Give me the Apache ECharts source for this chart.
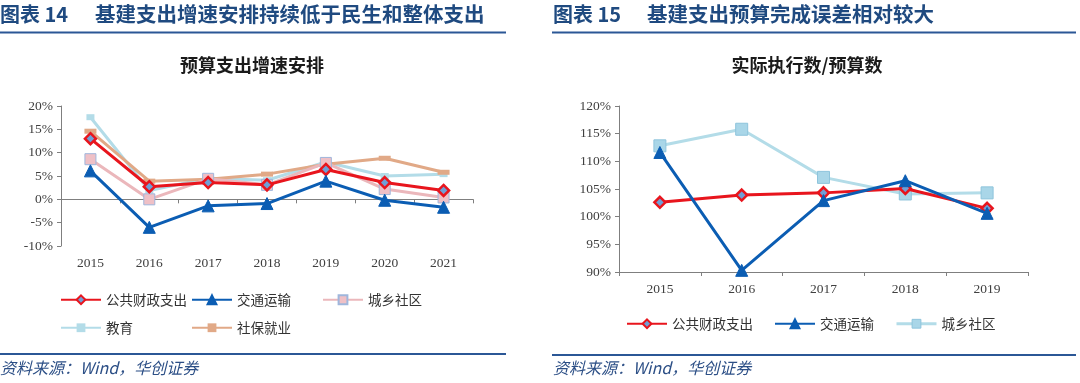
<!DOCTYPE html>
<html><head><meta charset="utf-8">
<script src="https://cdn.jsdelivr.net/npm/echarts@6/dist/echarts.min.js"></script>
<style>html,body{margin:0;padding:0;background:#fff}#c{width:1080px;height:383px}</style>
</head><body><div id="c"></div>
<script>
// ---- data: left chart (预算支出增速安排, %) ----
const categoriesA = ['2015','2016','2017','2018','2019','2020','2021'];
const gonggongA   = [13.0, 2.7, 3.6, 3.1, 6.4, 3.6, 1.9];
const jiaotongA   = [6.1, -6.0, -1.4, -0.9, 3.9, -0.2, -1.7];
const chengxiangA = [8.6, 0.0, 4.4, 3.1, 7.8, 2.2, 0.4];
const jiaoyuA     = [17.6, 1.9, 4.5, 4.1, 8.0, 5.0, 5.4];
const shebaoA     = [14.6, 3.9, 4.3, 5.4, 7.5, 8.8, 5.8];
const yTicksA = {min: -10, max: 20, interval: 5};
// ---- data: right chart (实际执行数/预算数, %) ----
const categoriesB = ['2015','2016','2017','2018','2019'];
const gonggongB   = [102.6, 103.9, 104.3, 105.1, 101.5];
const jiaotongB   = [111.6, 90.3, 102.9, 106.5, 100.6];
const chengxiangB = [112.8, 115.8, 107.1, 104.1, 104.3];
const yTicksB = {min: 90, max: 120, interval: 5};

const CJK = '"Noto Sans CJK SC", sans-serif';
const SERIF = '"Liberation Serif", "DejaVu Serif", serif';
const RED = '#e8151d', BLUE = '#0b5db3', PINK = '#ebb7bb', LBLUE = '#b3dce8', TAN = '#e1a987', LBLUE2 = '#a9d6e8';
const HEAD = '#1f4a80', RULE = '#2b5796';
const axisCol = '#7f7f7f';
const lblStyle = {color: '#404040', fontFamily: SERIF, fontSize: 13.5};

const chart = echarts.init(document.getElementById('c'), null, {renderer: 'canvas'});

function yAxis(grid, t) {
  return {type: 'value', gridIndex: grid, min: t.min, max: t.max, interval: t.interval,
    axisLine: {show: true, lineStyle: {color: axisCol, width: 1}},
    axisTick: {show: true, length: 4, lineStyle: {color: axisCol}},
    splitLine: {show: false},
    axisLabel: Object.assign({formatter: '{value}%', margin: 8}, lblStyle)};
}

const legendText = {fontFamily: CJK, fontSize: 13.5, color: '#333'};
function leg(names, left, top, gap) {
  return {left: left, top: top, padding: 0, itemWidth: 40, itemHeight: 11, itemGap: gap || 5,
    data: names, textStyle: legendText};
}

const option = {
  animation: false,
  graphic: [
    {type: 'text', left: 0, top: 4, style: {text: '图表 14', font: 'bold 20px ' + CJK, fill: HEAD}},
    {type: 'text', left: 95, top: 4, style: {text: '基建支出增速安排持续低于民生和整体支出', font: 'bold 20.5px ' + CJK, fill: HEAD}},
    {type: 'rect', shape: {x: 0, y: 31.5, width: 506, height: 2}, style: {fill: RULE}},
    {type: 'text', x: 252, y: 65, style: {text: '预算支出增速安排', font: 'bold 18px ' + CJK, fill: '#1a1a1a', align: 'center', verticalAlign: 'middle'}},
    {type: 'rect', shape: {x: 0, y: 353, width: 506, height: 2}, style: {fill: RULE}},
    {type: 'text', left: 0, top: 360, style: {text: '资料来源：Wind，华创证券', font: 'italic 16px ' + CJK, fill: '#2c4f86'}},

    {type: 'text', left: 553, top: 4, style: {text: '图表 15', font: 'bold 20px ' + CJK, fill: HEAD}},
    {type: 'text', left: 647, top: 4, style: {text: '基建支出预算完成误差相对较大', font: 'bold 20.5px ' + CJK, fill: HEAD}},
    {type: 'rect', shape: {x: 552, y: 31.5, width: 524, height: 2}, style: {fill: RULE}},
    {type: 'text', x: 807, y: 65, style: {text: '实际执行数/预算数', font: 'bold 18px ' + CJK, fill: '#1a1a1a', align: 'center', verticalAlign: 'middle'}},
    {type: 'rect', shape: {x: 552, y: 354, width: 524, height: 2}, style: {fill: RULE}},
    {type: 'text', left: 553, top: 360, style: {text: '资料来源：Wind，华创证券', font: 'italic 16px ' + CJK, fill: '#2c4f86'}}
  ],
  grid: [
    {left: 61, top: 106, width: 412, height: 140},
    {left: 619, top: 106, width: 409, height: 166}
  ],
  xAxis: [
    {type: 'category', gridIndex: 0, data: categoriesA, boundaryGap: true,
      axisLine: {onZero: true, lineStyle: {color: axisCol, width: 1}},
      axisTick: {show: true, length: 4, inside: false, lineStyle: {color: axisCol}},
      axisLabel: {show: false}},
    {type: 'category', gridIndex: 0, data: categoriesA, position: 'bottom', boundaryGap: true,
      axisLine: {show: false, onZero: false}, axisTick: {show: false},
      axisLabel: Object.assign({margin: 10}, lblStyle)},
    {type: 'category', gridIndex: 1, data: categoriesB, boundaryGap: true,
      axisLine: {onZero: false, lineStyle: {color: axisCol, width: 1}},
      axisTick: {show: true, length: 4, lineStyle: {color: axisCol}},
      axisLabel: Object.assign({margin: 10}, lblStyle)}
  ],
  yAxis: [yAxis(0, yTicksA), yAxis(1, yTicksB)],
  legend: [
    leg(['公共财政支出'], 60, 293),
    leg(['交通运输'], 191, 293),
    leg(['城乡社区'], 322, 293),
    leg(['教育'], 60, 321),
    leg(['社保就业'], 191, 321),
    {left: 626, top: 317, padding: 0, itemWidth: 40, itemHeight: 11, itemGap: 21,
      data: ['公共财政支出', '交通运输',
        {name: '城乡社区', itemStyle: {color: LBLUE2, borderColor: '#8ec4dc', borderWidth: 1}, lineStyle: {color: LBLUE, width: 3}}],
      textStyle: legendText}
  ],
  series: [
    {name: '公共财政支出', type: 'line', xAxisIndex: 0, yAxisIndex: 0, data: gonggongA, clip: false,
      symbol: 'diamond', symbolSize: 11, lineStyle: {color: RED, width: 3},
      itemStyle: {color: '#6f9fd6', borderColor: RED, borderWidth: 2.5}, z: 5},
    {name: '交通运输', type: 'line', xAxisIndex: 0, yAxisIndex: 0, data: jiaotongA, clip: false,
      symbol: 'triangle', symbolSize: 12, lineStyle: {color: BLUE, width: 3},
      itemStyle: {color: BLUE, borderColor: BLUE, borderWidth: 1}, z: 6},
    {name: '城乡社区', type: 'line', xAxisIndex: 0, yAxisIndex: 0, data: chengxiangA, clip: false,
      symbol: 'rect', symbolSize: 11, lineStyle: {color: PINK, width: 3},
      itemStyle: {color: '#efc0c6', borderColor: '#9fb6dc', borderWidth: 1}, z: 4},
    {name: '教育', type: 'line', xAxisIndex: 0, yAxisIndex: 0, data: jiaoyuA, clip: false,
      symbol: 'rect', symbolSize: [8, 6], lineStyle: {color: LBLUE, width: 3},
      itemStyle: {color: LBLUE, borderWidth: 0}, z: 3},
    {name: '社保就业', type: 'line', xAxisIndex: 0, yAxisIndex: 0, data: shebaoA, clip: false,
      symbol: 'rect', symbolSize: [12, 5], lineStyle: {color: TAN, width: 3},
      itemStyle: {color: TAN, borderWidth: 0}, z: 3},

    {name: '公共财政支出', type: 'line', xAxisIndex: 2, yAxisIndex: 1, data: gonggongB, clip: false,
      symbol: 'diamond', symbolSize: 11, lineStyle: {color: RED, width: 3},
      itemStyle: {color: '#6f9fd6', borderColor: RED, borderWidth: 2.5}, z: 5},
    {name: '交通运输', type: 'line', xAxisIndex: 2, yAxisIndex: 1, data: jiaotongB, clip: false,
      symbol: 'triangle', symbolSize: 12, lineStyle: {color: BLUE, width: 3},
      itemStyle: {color: BLUE, borderColor: BLUE, borderWidth: 1}, z: 6},
    {name: '城乡社区', type: 'line', xAxisIndex: 2, yAxisIndex: 1, data: chengxiangB, clip: false,
      symbol: 'rect', symbolSize: 12, lineStyle: {color: LBLUE, width: 3},
      itemStyle: {color: LBLUE2, borderColor: '#8ec4dc', borderWidth: 1}, z: 4}
  ]
};
chart.setOption(option);
</script></body></html>
